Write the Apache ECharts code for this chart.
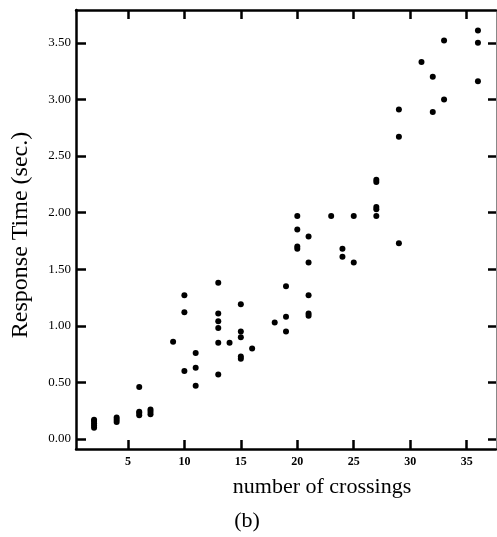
<!DOCTYPE html>
<html>
<head>
<meta charset="utf-8">
<script src="https://cdn.jsdelivr.net/npm/echarts@6/dist/echarts.min.js"></script>
<style>
  html, body { margin: 0; padding: 0; background: #fff; }
  #chart { width: 497px; height: 537px; }
</style>
</head>
<body>
<div id="chart"></div>
<script>
// number of crossings per trial
const crossings = [
  2, 2, 2, 2, 2,
  4, 4, 4,
  6, 6, 6, 6,
  7, 7, 7,
  9,
  10, 10, 10,
  11, 11, 11,
  13, 13, 13, 13, 13, 13,
  14,
  15, 15, 15, 15, 15,
  16,
  18,
  19, 19, 19,
  20, 20, 20, 20,
  21, 21, 21, 21, 21,
  23,
  24, 24,
  25, 25,
  27, 27, 27, 27, 27,
  29, 29, 29,
  31,
  32, 32,
  33, 33,
  36, 36, 36
];
// response time (sec.)
const responseTime = [
  0.10, 0.12, 0.14, 0.16, 0.17,
  0.15, 0.17, 0.19,
  0.46, 0.21, 0.23, 0.24,
  0.22, 0.24, 0.26,
  0.86,
  1.27, 1.12, 0.60,
  0.76, 0.63, 0.47,
  1.38, 1.11, 1.04, 0.98, 0.85, 0.57,
  0.85,
  1.19, 0.95, 0.90, 0.73, 0.71,
  0.80,
  1.03,
  1.35, 1.08, 0.95,
  1.97, 1.85, 1.70, 1.68,
  1.79, 1.56, 1.27, 1.11, 1.09,
  1.97,
  1.68, 1.61,
  1.97, 1.56,
  2.29, 2.27, 2.05, 2.03, 1.97,
  2.91, 2.67, 1.73,
  3.33,
  3.20, 2.89,
  3.52, 3.00,
  3.61, 3.50, 3.16
];
const xTicks = [5, 10, 15, 20, 25, 30, 35];
const yTicks = [0, 0.5, 1, 1.5, 2, 2.5, 3, 3.5];

const serif = "'Liberation Serif', 'DejaVu Serif', serif";
const points = crossings.map((x, i) => [x, responseTime[i]]);

const chart = echarts.init(document.getElementById('chart'));

const tickStyle = { color: '#000', width: 2.5 };

const option = {
  animation: false,
  backgroundColor: '#fff',
  grid: { left: 76, top: 10, width: 420, height: 439 },
  xAxis: [
    {
      type: 'value', min: 0.4, max: 37.6, position: 'bottom',
      axisLine: { onZero: false, lineStyle: { color: '#000', width: 2.5 } },
      axisTick: { inside: true, length: 9, lineStyle: tickStyle, customValues: xTicks },
      axisLabel: {
        customValues: xTicks, margin: 7, color: '#000',
        fontFamily: serif, fontSize: 12, fontWeight: 'bold'
      },
      splitLine: { show: false }
    },
    {
      type: 'value', min: 0.4, max: 37.6, position: 'top',
      axisLine: { onZero: false, lineStyle: { color: '#000', width: 2.5 } },
      axisTick: { inside: true, length: 9, lineStyle: tickStyle, customValues: xTicks },
      axisLabel: { show: false },
      splitLine: { show: false }
    }
  ],
  yAxis: [
    {
      type: 'value', min: -0.088, max: 3.79, position: 'left',
      axisLine: { onZero: false, lineStyle: { color: '#000', width: 2.5 } },
      axisTick: { inside: true, length: 10, lineStyle: tickStyle, customValues: yTicks },
      axisLabel: {
        customValues: yTicks, margin: 5, color: '#000',
        fontFamily: serif, fontSize: 13,
        formatter: v => v.toFixed(2)
      },
      splitLine: { show: false }
    },
    {
      type: 'value', min: -0.088, max: 3.79, position: 'right',
      axisLine: { onZero: false, lineStyle: { color: '#888', width: 1 } },
      axisTick: { inside: true, length: 8, lineStyle: tickStyle, customValues: yTicks },
      axisLabel: { show: false },
      splitLine: { show: false }
    }
  ],
  graphic: [
    {
      type: 'text', x: 21, y: 235, rotation: Math.PI / 2,
      style: {
        text: 'Response Time (sec.)', fill: '#000',
        font: '24px ' + serif, align: 'center', verticalAlign: 'middle'
      }
    },
    {
      type: 'text', x: 322, y: 487,
      style: {
        text: 'number of crossings', fill: '#000',
        font: '22px ' + serif, align: 'center', verticalAlign: 'middle'
      }
    },
    {
      type: 'text', x: 247, y: 521,
      style: {
        text: '(b)', fill: '#000',
        font: '22px ' + serif, align: 'center', verticalAlign: 'middle'
      }
    }
  ],
  series: [
    {
      type: 'scatter',
      xAxisIndex: 0, yAxisIndex: 0,
      symbol: 'circle', symbolSize: 6,
      itemStyle: { color: '#000', opacity: 1 },
      data: points
    }
  ]
};

chart.setOption(option);
</script>
</body>
</html>
